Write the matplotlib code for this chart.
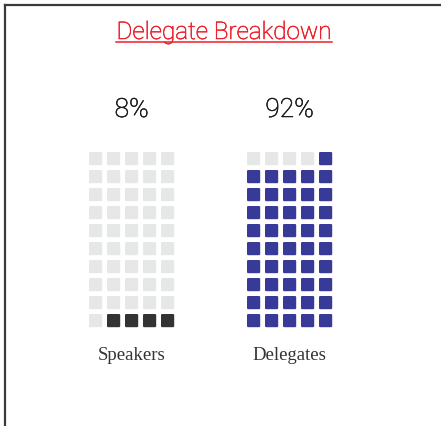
import matplotlib
matplotlib.use('Agg')
import matplotlib.pyplot as plt
import matplotlib.patheffects as pe
from matplotlib.patches import FancyBboxPatch
from matplotlib.lines import Line2D

# data
categories = ['Speakers', 'Delegates']
percents = [8, 92]
fill_colors = ['#333333', '#373a97']
empty_color = '#e6e8e8'
title = 'Delegate Breakdown'

n_cols, n_rows = 5, 10
pitch = 18
size = 13.2
grid_left = [89, 247]
grid_top = 152

W, H = 441, 426
fig = plt.figure(figsize=(W / 100, H / 100), dpi=100)
ax = fig.add_axes([0, 0, 1, 1])
ax.set_xlim(0, W)
ax.set_ylim(H, 0)
ax.axis('off')

# frame (top + left only)
fig.add_artist(Line2D([4.5 / W, 1], [1 - 4.5 / H, 1 - 4.5 / H], transform=fig.transFigure, color='#3a3a3a', lw=1.6))
fig.add_artist(Line2D([4.5 / W, 4.5 / W], [0, 1 - 4.5 / H], transform=fig.transFigure, color='#3a3a3a', lw=1.6))

red = '#ee1f2a'
ax.text(224, 39, title, color=red, fontsize=17.5, family='Roboto', fontweight='light',
        ha='center', va='baseline',
        path_effects=[pe.withStroke(linewidth=0.4, foreground=red)])
ax.plot([116, 332], [42, 42], color=red, lw=1.1)

for i, (cat, pct) in enumerate(zip(categories, percents)):
    n_fill = int(round(pct / 100 * n_cols * n_rows))
    for k in range(n_cols * n_rows):
        row_from_bottom = k // n_cols
        col = n_cols - 1 - k % n_cols
        x = grid_left[i] + col * pitch
        y = grid_top + (n_rows - 1 - row_from_bottom) * pitch
        c = fill_colors[i] if k < n_fill else empty_color
        ax.add_patch(FancyBboxPatch((x + 0.5, y + 0.5), size - 1, size - 1,
                                    boxstyle='round,pad=0.5,rounding_size=1.2',
                                    fc=c, ec='none'))
    cx = grid_left[i] + ((n_cols - 1) * pitch + size) / 2
    ax.text(cx, 117, f'{pct}%', fontsize=19, family='Roboto', fontweight='light',
            color='#1a1a1a', ha='center', va='baseline',
            path_effects=[pe.withStroke(linewidth=0.4, foreground='#1a1a1a')])
    ax.text(cx, 356, cat, fontsize=13.5, family='Liberation Serif', color='#333333',
            ha='center', va='center')

fig.savefig('out.png', dpi=100, facecolor='white')
